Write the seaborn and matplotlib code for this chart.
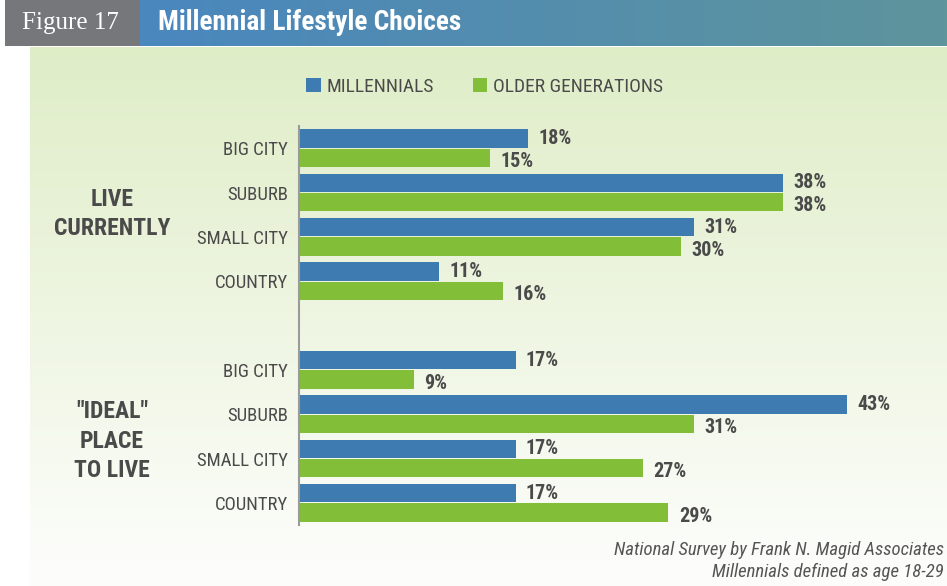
import matplotlib
matplotlib.use("Agg")
import matplotlib.pyplot as plt
from matplotlib import font_manager
import numpy as np
import pandas as pd
import seaborn as sns

# data
places = ["BIG CITY", "SUBURB", "SMALL CITY", "COUNTRY"]
groups = ["LIVE\nCURRENTLY", "\"IDEAL\"\nPLACE\nTO LIVE"]
generations = ["MILLENNIALS", "OLDER GENERATIONS"]
live_millennials = [18, 38, 31, 11]
live_older = [15, 38, 30, 16]
ideal_millennials = [17, 43, 17, 17]
ideal_older = [9, 31, 27, 29]

BLUE = "#3e7bb0"
GREEN = "#82be37"
TEXT = "#4a4a4a"
W, H = 947, 586

# pick a condensed sans for the labels
names = {f.name for f in font_manager.fontManager.ttflist}
for cand in ["Liberation Sans Narrow", "Roboto Condensed", "Open Sans Condensed", "DejaVu Sans Condensed"]:
    if cand in names:
        NARROW = cand
        STRETCH = "normal"
        break
else:
    NARROW = "DejaVu Sans"
    STRETCH = "condensed"


def ntext(**kw):
    return dict(family=NARROW, fontstretch=STRETCH, **kw)


def build_frame():
    rows = []
    for g, mil, old in [("live", live_millennials, live_older), ("ideal", ideal_millennials, ideal_older)]:
        for place, m, o in zip(places, mil, old):
            rows.append({"row": f"{g}|{place}", "generation": generations[0], "pct": m})
            rows.append({"row": f"{g}|{place}", "generation": generations[1], "pct": o})
    order = [f"live|{p}" for p in places] + ["gap"] + [f"ideal|{p}" for p in places]
    return pd.DataFrame(rows), order


def draw_background(fig):
    bg = fig.add_axes([0, 0, 1, 1])
    bg.set_xlim(0, W)
    bg.set_ylim(H, 0)
    bg.axis("off")

    # light green panel fading to white
    top = np.array([223, 237, 199]) / 255
    bottom = np.array([252, 253, 250]) / 255
    t = np.linspace(0, 1, 256)[:, None]
    grad = np.clip(top * (1 - t) + bottom * t, 0, 1)[:, None, :]
    bg.imshow(grad, extent=[30, W, 560, 47], aspect="auto", interpolation="bicubic")
    bg.imshow(np.ones((2, 2, 3)) * bottom, extent=[30, W, H, 560], aspect="auto")

    # header
    left = np.array([74, 135, 190]) / 255
    right = np.array([94, 148, 156]) / 255
    s = np.linspace(0, 1, 256)[None, :, None]
    bg.imshow(left * (1 - s) + right * s, extent=[140, W, 46, 0], aspect="auto")
    bg.add_patch(plt.Rectangle((5, 0), 135, 46, color="#76777b", lw=0))
    bg.text(22, 23, "Figure 17", color="white", fontsize=18, family="Liberation Serif",
            va="center", ha="left")
    bg.text(158, 23, "Millennial Lifestyle Choices", color="white", fontsize=19.7,
            fontweight="bold", va="center", ha="left", **ntext())

    # group labels
    bg.text(112, 214, groups[0], color=TEXT, fontsize=17, fontweight="bold",
            ha="center", va="center", linespacing=1.35, **ntext())
    bg.text(112, 441, groups[1], color=TEXT, fontsize=17, fontweight="bold",
            ha="center", va="center", linespacing=1.35, **ntext())

    # footnote
    bg.text(944, 550, "National Survey by Frank N. Magid Associates", color="#555555",
            fontsize=13.5, style="italic", ha="right", va="center", **ntext())
    bg.text(944, 572, "Millennials defined as age 18-29", color="#555555",
            fontsize=13.5, style="italic", ha="right", va="center", **ntext())
    return bg


def main():
    df, order = build_frame()
    fig = plt.figure(figsize=(W / 100, H / 100), dpi=100)
    draw_background(fig)

    ax = fig.add_axes([299 / W, 1 - 525 / H, (940 - 299) / W, 399 / H])
    ax.set_facecolor("none")
    sns.barplot(data=df, y="row", x="pct", hue="generation", order=order,
                hue_order=generations, palette=[BLUE, GREEN], orient="h",
                width=0.88, gap=0.06, saturation=1, ax=ax)

    ax.set_xlim(0, (940 - 299) / 12.74)
    ax.set_ylim(8.5, -0.5)
    # value labels, nudged apart a little so the pairs don't touch
    for c, dy in zip(ax.containers, [0, -2.6]):
        for bar in c:
            w = bar.get_width()
            y = bar.get_y() + bar.get_height() / 2
            ax.annotate(f"{w:.0f}%", (w, y), xytext=(7.5, dy), textcoords="offset points",
                        ha="left", va="center", fontsize=14.5, fontweight="bold",
                        color=TEXT, **ntext())

    ax.set_yticks(range(len(order)))
    ax.set_yticklabels([r.split("|")[-1] if "|" in r else "" for r in order],
                       fontsize=13.5, color=TEXT, **ntext())
    ax.tick_params(axis="y", length=0, pad=8)
    ax.set_xticks([])
    ax.set_xlabel("")
    ax.set_ylabel("")
    for side in ["top", "right", "bottom"]:
        ax.spines[side].set_visible(False)
    ax.spines["left"].set_color("#9a9a9a")
    ax.spines["left"].set_linewidth(1.5)

    sns.move_legend(ax, "center left", bbox_to_anchor=(306 / W, 1 - 87 / H),
                    bbox_transform=fig.transFigure, ncol=2, frameon=False, title=None,
                    borderpad=0, borderaxespad=0,
                    handlelength=0.75, handleheight=0.75, handletextpad=0.3,
                    columnspacing=2.0,
                    prop=font_manager.FontProperties(family=NARROW, stretch=STRETCH, size=14))
    for t in ax.get_legend().get_texts():
        t.set_color(TEXT)

    fig.savefig("out.png", dpi=100)


if __name__ == "__main__":
    main()
